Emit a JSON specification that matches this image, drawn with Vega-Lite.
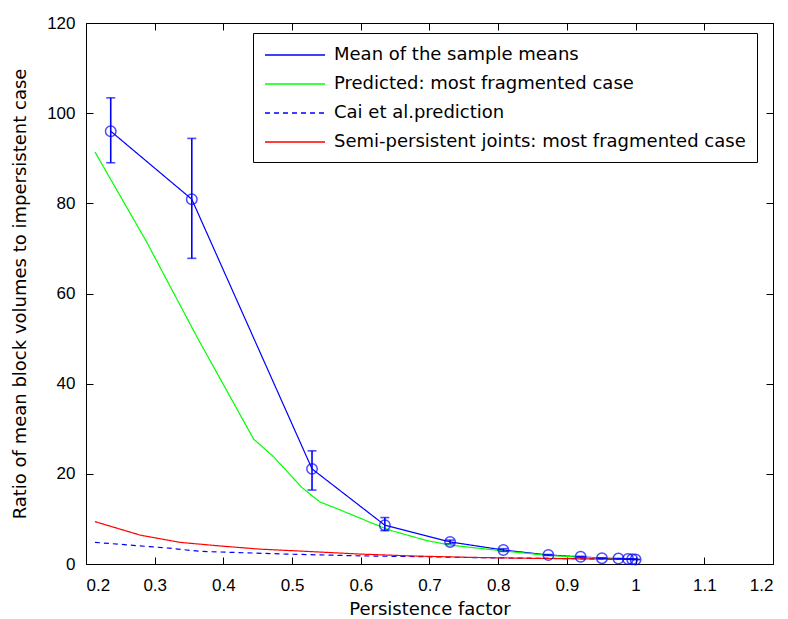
{
  "$schema": "https://vega.github.io/schema/vega-lite/v6.json",
  "width": 687,
  "height": 541,
  "autosize": "none",
  "padding": {"left": 86, "top": 23, "right": 15, "bottom": 55},
  "background": "white",
  "config": {
    "view": {"stroke": "black", "strokeWidth": 1},
    "axis": {
      "grid": false,
      "domain": false,
      "tickColor": "black",
      "tickSize": -7,
      "tickWidth": 1,
      "labelColor": "black",
      "labelFont": "Liberation Sans",
      "labelFontSize": 17,
      "titleColor": "black",
      "titleFont": "DejaVu Sans",
      "titleFontSize": 18,
      "titleFontWeight": "normal"
    },
    "legend": {
      "orient": "none",
      "legendX": 167,
      "legendY": 10,
      "strokeColor": "black",
      "fillColor": "white",
      "padding": 11,
      "symbolType": "M-1,0H5",
      "symbolSize": 400,
      "symbolStrokeWidth": 1.5,
      "labelFont": "DejaVu Sans",
      "labelFontSize": 18,
      "labelColor": "black",
      "rowPadding": 9,
      "labelOffset": 48,
      "labelLimit": 0
    }
  },
  "datasets": {
    "lines": [
      {"series": "Mean of the sample means", "x": 0.236, "y": 96.0},
      {"series": "Mean of the sample means", "x": 0.354, "y": 80.9},
      {"series": "Mean of the sample means", "x": 0.529, "y": 21.1},
      {"series": "Mean of the sample means", "x": 0.635, "y": 8.6},
      {"series": "Mean of the sample means", "x": 0.730, "y": 4.9},
      {"series": "Mean of the sample means", "x": 0.8075, "y": 3.1},
      {"series": "Mean of the sample means", "x": 0.873, "y": 2.0},
      {"series": "Mean of the sample means", "x": 0.920, "y": 1.6},
      {"series": "Mean of the sample means", "x": 0.951, "y": 1.3},
      {"series": "Mean of the sample means", "x": 0.975, "y": 1.2},
      {"series": "Mean of the sample means", "x": 0.989, "y": 1.1},
      {"series": "Mean of the sample means", "x": 0.995, "y": 1.05},
      {"series": "Mean of the sample means", "x": 1.0, "y": 1.0},
      {"series": "Predicted: most fragmented case", "x": 0.213, "y": 91.4},
      {"series": "Predicted: most fragmented case", "x": 0.288, "y": 71.5},
      {"series": "Predicted: most fragmented case", "x": 0.361, "y": 50.5},
      {"series": "Predicted: most fragmented case", "x": 0.444, "y": 27.7},
      {"series": "Predicted: most fragmented case", "x": 0.473, "y": 23.8},
      {"series": "Predicted: most fragmented case", "x": 0.514, "y": 17.0},
      {"series": "Predicted: most fragmented case", "x": 0.540, "y": 13.8},
      {"series": "Predicted: most fragmented case", "x": 0.565, "y": 12.3},
      {"series": "Predicted: most fragmented case", "x": 0.608, "y": 9.6},
      {"series": "Predicted: most fragmented case", "x": 0.640, "y": 7.6},
      {"series": "Predicted: most fragmented case", "x": 0.696, "y": 5.2},
      {"series": "Predicted: most fragmented case", "x": 0.730, "y": 4.2},
      {"series": "Predicted: most fragmented case", "x": 0.807, "y": 2.9},
      {"series": "Predicted: most fragmented case", "x": 0.873, "y": 1.9},
      {"series": "Predicted: most fragmented case", "x": 0.920, "y": 1.5},
      {"series": "Predicted: most fragmented case", "x": 0.951, "y": 1.3},
      {"series": "Predicted: most fragmented case", "x": 0.975, "y": 1.15},
      {"series": "Predicted: most fragmented case", "x": 1.0, "y": 1.0},
      {"series": "Cai et al.prediction", "x": 0.213, "y": 4.8},
      {"series": "Cai et al.prediction", "x": 0.322, "y": 3.5},
      {"series": "Cai et al.prediction", "x": 0.366, "y": 2.8},
      {"series": "Cai et al.prediction", "x": 0.492, "y": 2.2},
      {"series": "Cai et al.prediction", "x": 0.600, "y": 1.8},
      {"series": "Cai et al.prediction", "x": 0.700, "y": 1.6},
      {"series": "Cai et al.prediction", "x": 0.770, "y": 1.4},
      {"series": "Cai et al.prediction", "x": 0.873, "y": 1.25},
      {"series": "Cai et al.prediction", "x": 0.950, "y": 1.1},
      {"series": "Cai et al.prediction", "x": 1.0, "y": 1.0},
      {"series": "Semi-persistent joints: most fragmented case", "x": 0.213, "y": 9.4},
      {"series": "Semi-persistent joints: most fragmented case", "x": 0.279, "y": 6.4},
      {"series": "Semi-persistent joints: most fragmented case", "x": 0.337, "y": 4.8},
      {"series": "Semi-persistent joints: most fragmented case", "x": 0.395, "y": 4.0},
      {"series": "Semi-persistent joints: most fragmented case", "x": 0.453, "y": 3.3},
      {"series": "Semi-persistent joints: most fragmented case", "x": 0.521, "y": 2.8},
      {"series": "Semi-persistent joints: most fragmented case", "x": 0.599, "y": 2.2},
      {"series": "Semi-persistent joints: most fragmented case", "x": 0.672, "y": 1.8},
      {"series": "Semi-persistent joints: most fragmented case", "x": 0.750, "y": 1.5},
      {"series": "Semi-persistent joints: most fragmented case", "x": 0.827, "y": 1.3},
      {"series": "Semi-persistent joints: most fragmented case", "x": 0.920, "y": 1.15},
      {"series": "Semi-persistent joints: most fragmented case", "x": 1.0, "y": 1.0}
    ],
    "mean": [
      {"x": 0.236, "y": 96.0, "lo": 89.0, "hi": 103.4},
      {"x": 0.354, "y": 80.9, "lo": 67.8, "hi": 94.4},
      {"x": 0.529, "y": 21.1, "lo": 16.4, "hi": 25.1},
      {"x": 0.635, "y": 8.6, "lo": 7.4, "hi": 10.3},
      {"x": 0.730, "y": 4.9, "lo": 4.5, "hi": 5.3},
      {"x": 0.8075, "y": 3.1, "lo": 2.8, "hi": 3.4},
      {"x": 0.873, "y": 2.0, "lo": 1.9, "hi": 2.1},
      {"x": 0.920, "y": 1.6, "lo": 1.5, "hi": 1.7},
      {"x": 0.951, "y": 1.3, "lo": 1.3, "hi": 1.3},
      {"x": 0.975, "y": 1.2, "lo": 1.2, "hi": 1.2},
      {"x": 0.989, "y": 1.1, "lo": 1.1, "hi": 1.1},
      {"x": 0.995, "y": 1.05, "lo": 1.05, "hi": 1.05},
      {"x": 1.0, "y": 1.0, "lo": 1.0, "hi": 1.0}
    ]
  },
  "layer": [
    {
      "data": {"name": "lines"},
      "mark": {"type": "line", "strokeWidth": 1.2},
      "encoding": {
        "x": {
          "field": "x", "type": "quantitative",
          "scale": {"domain": [0.2, 1.2], "nice": false, "zero": false},
          "axis": {"orient": "bottom", "title": "Persistence factor", "values": [0.2, 0.3, 0.4, 0.5, 0.6, 0.7, 0.8, 0.9, 1.0, 1.1, 1.2], "format": "~g", "labelPadding": 20, "titlePadding": 7}
        },
        "y": {
          "field": "y", "type": "quantitative",
          "scale": {"domain": [0, 120], "nice": false},
          "axis": {"orient": "left", "title": "Ratio of mean block volumes to impersistent case", "values": [0, 20, 40, 60, 80, 100, 120], "labelPadding": 18, "titlePadding": 17}
        },
        "color": {
          "field": "series", "type": "nominal",
          "sort": ["Mean of the sample means", "Predicted: most fragmented case", "Cai et al.prediction", "Semi-persistent joints: most fragmented case"],
          "scale": {
            "domain": ["Mean of the sample means", "Predicted: most fragmented case", "Cai et al.prediction", "Semi-persistent joints: most fragmented case"],
            "range": ["#0000ff", "#00ff00", "#0000ff", "#ff0000"]
          },
          "legend": {"title": null}
        },
        "strokeDash": {
          "field": "series", "type": "nominal",
          "sort": ["Mean of the sample means", "Predicted: most fragmented case", "Cai et al.prediction", "Semi-persistent joints: most fragmented case"],
          "scale": {
            "domain": ["Mean of the sample means", "Predicted: most fragmented case", "Cai et al.prediction", "Semi-persistent joints: most fragmented case"],
            "range": [[1, 0], [1, 0], [5, 4], [1, 0]]
          },
          "legend": {"title": null}
        }
      }
    },
    {
      "data": {"name": "mean"},
      "mark": {"type": "rule", "color": "#0000ff", "strokeWidth": 1.6},
      "encoding": {
        "x": {"field": "x", "type": "quantitative", "axis": null},
        "y": {"field": "lo", "type": "quantitative", "axis": null},
        "y2": {"field": "hi"}
      }
    },
    {
      "data": {"name": "mean"},
      "mark": {"type": "tick", "orient": "horizontal", "color": "#0000ff", "size": 9, "thickness": 1.6},
      "encoding": {
        "x": {"field": "x", "type": "quantitative", "axis": null},
        "y": {"field": "lo", "type": "quantitative", "axis": null}
      }
    },
    {
      "data": {"name": "mean"},
      "mark": {"type": "tick", "orient": "horizontal", "color": "#0000ff", "size": 9, "thickness": 1.6},
      "encoding": {
        "x": {"field": "x", "type": "quantitative", "axis": null},
        "y": {"field": "hi", "type": "quantitative", "axis": null}
      }
    },
    {
      "data": {"name": "mean"},
      "mark": {"type": "point", "shape": "circle", "filled": false, "color": "#0000ff", "size": 110, "strokeWidth": 1.5},
      "encoding": {
        "x": {"field": "x", "type": "quantitative", "axis": {"orient": "top", "title": null, "labels": false, "values": [0.2, 0.3, 0.4, 0.5, 0.6, 0.7, 0.8, 0.9, 1.0, 1.1, 1.2]}},
        "y": {"field": "y", "type": "quantitative", "axis": {"orient": "right", "title": null, "labels": false, "values": [0, 20, 40, 60, 80, 100, 120]}}
      }
    }
  ],
  "resolve": {"axis": {"x": "independent", "y": "independent"}}
}
